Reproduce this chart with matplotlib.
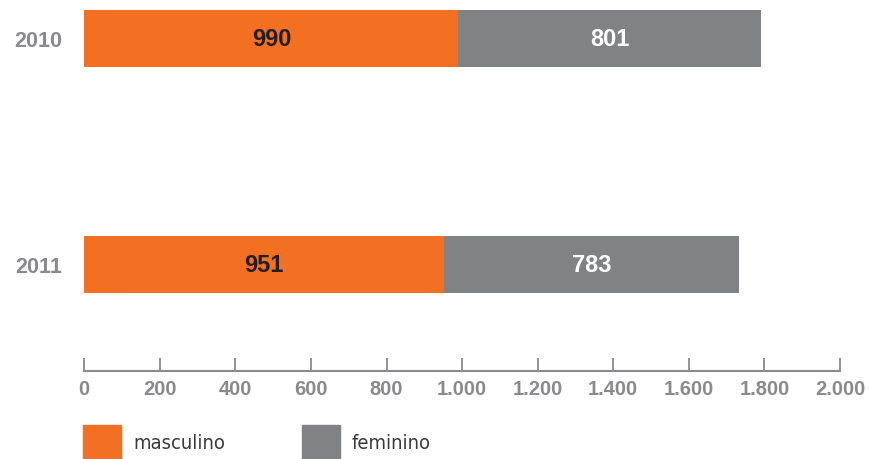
import matplotlib.pyplot as plt
from matplotlib.patches import Rectangle

# Data
years = ['2010', '2011']
masculino = [990, 951]
feminino = [801, 783]
x_ticks = [0, 200, 400, 600, 800, 1000, 1200, 1400, 1600, 1800, 2000]
x_tick_labels = ['0', '200', '400', '600', '800', '1.000', '1.200',
                 '1.400', '1.600', '1.800', '2.000']
legend_labels = ['masculino', 'feminino']

ORANGE = '#f36f21'
GREY = '#818286'
AXIS_GREY = '#8a8a8e'
BOLD_FONT = ['Liberation Sans', 'DejaVu Sans']


def main():
    fig = plt.figure(figsize=(8.7, 4.6), dpi=100)
    ax = fig.add_axes([84.3 / 870, 1 - 372 / 460, (840 - 84.3) / 870, 372 / 460])

    pos = list(range(len(years)))
    ax.barh(pos, masculino, height=0.25, color=ORANGE)
    ax.barh(pos, feminino, left=masculino, height=0.25, color=GREY)

    # Bar labels
    for p, m, f in zip(pos, masculino, feminino):
        ax.text(m / 2, p, str(m), ha='center', va='center', fontsize=17,
                fontweight='bold', color='#231f20', family=BOLD_FONT)
        ax.text(m + f / 2, p, str(f), ha='center', va='center', fontsize=17,
                fontweight='bold', color='white', family=BOLD_FONT)

    ax.set_xlim(0, 2000)
    ax.set_ylim(1.471, -0.174)
    ax.set_xticks(x_ticks)
    ax.set_xticklabels(x_tick_labels, fontsize=14.5, fontweight='bold',
                       color=AXIS_GREY, family=BOLD_FONT)
    ax.set_yticks(pos)
    ax.set_yticklabels(years, fontsize=15.5, fontweight='bold',
                       color=AXIS_GREY, family=BOLD_FONT)
    ax.tick_params(axis='x', direction='in', length=9.5, width=1.3,
                   color=AXIS_GREY, pad=5.5)
    ax.tick_params(axis='y', length=0, pad=16)
    for side in ['top', 'right', 'left']:
        ax.spines[side].set_visible(False)
    ax.spines['bottom'].set_color(AXIS_GREY)
    ax.spines['bottom'].set_linewidth(1.5)
    ax.set_facecolor('none')

    # Legend
    for x0, color, label in zip([83, 302], [ORANGE, GREY], legend_labels):
        fig.add_artist(Rectangle((x0 / 870, 0), 38 / 870, 34 / 460,
                                 transform=fig.transFigure, color=color))
        fig.text((x0 + 50) / 870, 1 - 444 / 460, label, ha='left', va='center',
                 fontsize=14.5, color='#3a3a3a', fontstretch='condensed',
                 family=['Liberation Sans Narrow', 'DejaVu Sans'])

    fig.savefig('out.png', dpi=100)


if __name__ == '__main__':
    main()
